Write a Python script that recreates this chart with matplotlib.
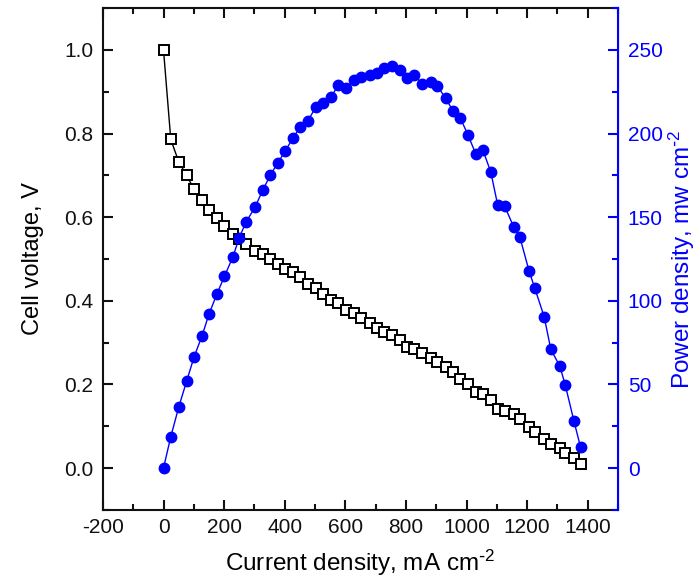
import matplotlib
matplotlib.use("Agg")
import matplotlib.pyplot as plt
from matplotlib.ticker import MultipleLocator

plt.rcParams['font.family'] = ['Liberation Sans', 'DejaVu Sans']
plt.rcParams['axes.unicode_minus'] = False
plt.rcParams['mathtext.default'] = 'regular'

# current density, mA cm-2
current = [0, 24, 50, 76, 101, 127, 150, 176, 201, 229,
           250, 272, 302, 327, 352, 377, 402, 427, 452, 477,
           503, 525, 553, 577, 603, 628, 652, 680, 705, 729,
           755, 779, 804, 828, 854, 881, 903, 931, 955, 979,
           1005, 1030, 1054, 1080, 1103, 1126, 1156, 1176, 1206, 1225,
           1256, 1278, 1308, 1326, 1354, 1376]
# cell voltage, V
voltage = [1.0, 0.786, 0.733, 0.70, 0.667, 0.641, 0.618, 0.598, 0.579, 0.561,
           0.547, 0.535, 0.520, 0.511, 0.499, 0.488, 0.477, 0.469, 0.456, 0.44,
           0.43, 0.416, 0.402, 0.394, 0.378, 0.37, 0.358, 0.348, 0.336, 0.326,
           0.318, 0.306, 0.29, 0.284, 0.274, 0.262, 0.254, 0.242, 0.23, 0.214,
           0.2, 0.181, 0.178, 0.163, 0.141, 0.137, 0.129, 0.117, 0.097, 0.085,
           0.069, 0.057, 0.047, 0.037, 0.025, 0.010]
# power density, mW cm-2
power = [0, 18.7, 36.3, 51.8, 66.5, 79, 92, 104, 114.6, 126.3,
         137.8, 147, 156, 166, 175, 182.5, 189.6, 197.4, 204, 207.8,
         216, 218, 222, 229, 227.5, 232, 234, 235, 236, 239,
         240.5, 238, 233, 235, 229.5, 231, 228.7, 221, 213.7, 209.5,
         199, 188, 190, 177, 157, 156.4, 144, 138, 118, 107.6,
         90.5, 71, 60.8, 49.4, 28.3, 12.6]

blue = '#0000ff'

fig = plt.figure(figsize=(7, 5.84), dpi=100)
ax = fig.add_axes([0.147, 0.127, 0.736, 0.859])
ax2 = ax.twinx()

ax.plot(current, voltage, color='black', lw=1, marker='s', markersize=7,
        markerfacecolor='white', markeredgecolor='black', markeredgewidth=1.4, zorder=3)
ax2.plot(current, power, color=blue, lw=1, marker='o', markersize=7.5,
         markerfacecolor=blue, markeredgecolor=blue, zorder=2)

ax.set_xlim(-200, 1500)
ax.set_ylim(-0.1, 1.1)
ax2.set_ylim(-25, 275)

ax.set_xticks(range(-200, 1401, 200))
ax.xaxis.set_minor_locator(MultipleLocator(100))
ax.set_yticks([0.0, 0.2, 0.4, 0.6, 0.8, 1.0])
ax.set_yticklabels(['0.0', '0.2', '0.4', '0.6', '0.8', '1.0'])
ax.yaxis.set_minor_locator(MultipleLocator(0.1))
ax2.set_yticks(range(0, 251, 50))
ax2.yaxis.set_minor_locator(MultipleLocator(25))

ax.tick_params(axis='both', which='both', direction='in', top=True, labelsize=15,
               width=1.5, colors='#111111')
ax.tick_params(which='major', length=7)
ax.tick_params(which='minor', length=4)
ax.tick_params(axis='y', pad=7)
ax.tick_params(axis='x', pad=6)
ax.tick_params(axis='y', which='both', right=False)
ax2.tick_params(axis='y', which='both', direction='in', labelsize=15, width=1.5,
                colors=blue, pad=7)
ax2.tick_params(which='major', length=7)
ax2.tick_params(which='minor', length=4)

for s in ['left', 'top', 'bottom']:
    ax.spines[s].set_linewidth(1.5)
    ax.spines[s].set_color('#111111')
ax2.spines['right'].set_color(blue)
ax2.spines['right'].set_linewidth(1.5)
ax2.spines['left'].set_visible(False)
ax2.spines['top'].set_visible(False)
ax2.spines['bottom'].set_visible(False)

ax.set_xlabel(r'Current density, mA cm$^{\text{-}2}$', fontsize=17.5, labelpad=8)
ax.set_ylabel('Cell voltage, V', fontsize=17, labelpad=14)
ax2.set_ylabel(r'Power density, mw cm$^{\text{-}2}$', fontsize=17.5, color=blue, labelpad=3)

fig.savefig('out.png', dpi=100)
